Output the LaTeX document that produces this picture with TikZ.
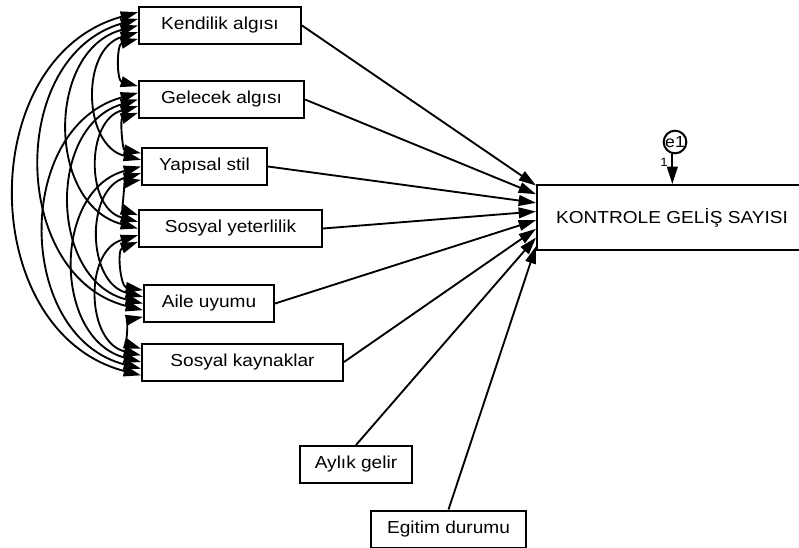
\documentclass[tikz,border=0pt]{standalone}
\usepackage{fontspec}
\setmainfont[FakeStretch=1.1]{Liberation Sans}
\usetikzlibrary{arrows.meta,calc}

\tikzset{
  var/.style={draw, line width=1.5pt, minimum height=27.75pt, inner sep=0pt,
    font=\fontsize{13}{15}\selectfont},
  reg/.style={-{Triangle[length=13pt,width=8pt]}, line width=1.4pt},
  cov/.style={{Triangle[length=13pt,width=8pt]}-{Triangle[length=13pt,width=8pt]},
    line width=1.4pt, bend right=75, looseness=1.2}
}

\begin{document}
\begin{tikzpicture} [x=0.75pt,y=0.75pt]

\useasboundingbox (0,0) rectangle (799,-547);

% observed variables
\node [var, minimum width=121.5pt] (ka) at (220,-25.5) {Kendilik algısı};
\node [var, minimum width=123.75pt] (ga) at (221.5,-99.5) {Gelecek algısı};
\node [var, minimum width=93.75pt] (ys) at (204.5,-166.5) {Yapısal stil};
\node [var, minimum width=137.25pt] (sy) at (230.5,-228.5) {Sosyal yeterlilik};
\node [var, minimum width=97.5pt] (au) at (209,-303.5) {Aile uyumu};
\node [var, minimum width=150.75pt] (sk) at (242.5,-362) {Sosyal kaynaklar};
\node [var, minimum width=84pt] (ay) at (356,-464.5) {Aylık gelir};
\node [var, minimum width=116.25pt] (ed) at (448.5,-529) {Egitim durumu};
\node [var, minimum width=202.5pt, minimum height=48.75pt] (kg) at (672,-217.5) {KONTROLE GELİŞ SAYISI};

% error term
\node [draw, circle, line width=1.5pt, minimum size=17pt, inner sep=0pt,
  font=\fontsize{12}{14}\selectfont] (e1) at (675,-142) {e1};
\node [font=\fontsize{9}{10}\selectfont, inner sep=0pt] (one) at (664,-162) {1};
\draw [reg] ([xshift=-2pt]e1.south) -- ([xshift=-2pt]e1.south |- kg.north);

% regressions
\draw [reg] (ka.east) -- ([yshift=24pt]kg.west);
\draw [reg] (ga.east) -- ([yshift=17.5pt]kg.west);
\draw [reg] (ys.east) -- ([yshift=11pt]kg.west);
\draw [reg] (sy.east) -- ([yshift=4.5pt]kg.west);
\draw [reg] (au.east) -- ([yshift=-2pt]kg.west);
\draw [reg] (sk.east) -- ([yshift=-8.5pt]kg.west);
\draw [reg] (ay.north) -- ([yshift=-15pt]kg.west);
\draw [reg] (ed.north) -- ([yshift=-21.5pt]kg.west);

% covariances
\draw [cov] ([yshift=-10pt]ka.west) to ([yshift=10pt]ga.west);
\draw [cov] ([yshift=-5pt]ka.west) to ([yshift=5pt]ys.west);
\draw [cov] (ka.west) to (sy.west);
\draw [cov] ([yshift=5pt]ka.west) to ([yshift=-5pt]au.west);
\draw [cov] ([yshift=10pt]ka.west) to ([yshift=-10pt]sk.west);
\draw [cov] ([yshift=-10pt]ga.west) to ([yshift=10pt]ys.west);
\draw [cov] ([yshift=-5pt]ga.west) to ([yshift=5pt]sy.west);
\draw [cov] (ga.west) to (au.west);
\draw [cov] ([yshift=5pt]ga.west) to ([yshift=-5pt]sk.west);
\draw [cov] ([yshift=-10pt]ys.west) to ([yshift=10pt]sy.west);
\draw [cov] ([yshift=-5pt]ys.west) to ([yshift=5pt]au.west);
\draw [cov] (ys.west) to (sk.west);
\draw [cov] ([yshift=-10pt]sy.west) to ([yshift=10pt]au.west);
\draw [cov] ([yshift=-5pt]sy.west) to ([yshift=5pt]sk.west);
\draw [cov] ([yshift=-10pt]au.west) to ([yshift=10pt]sk.west);

\end{tikzpicture}
\end{document}
